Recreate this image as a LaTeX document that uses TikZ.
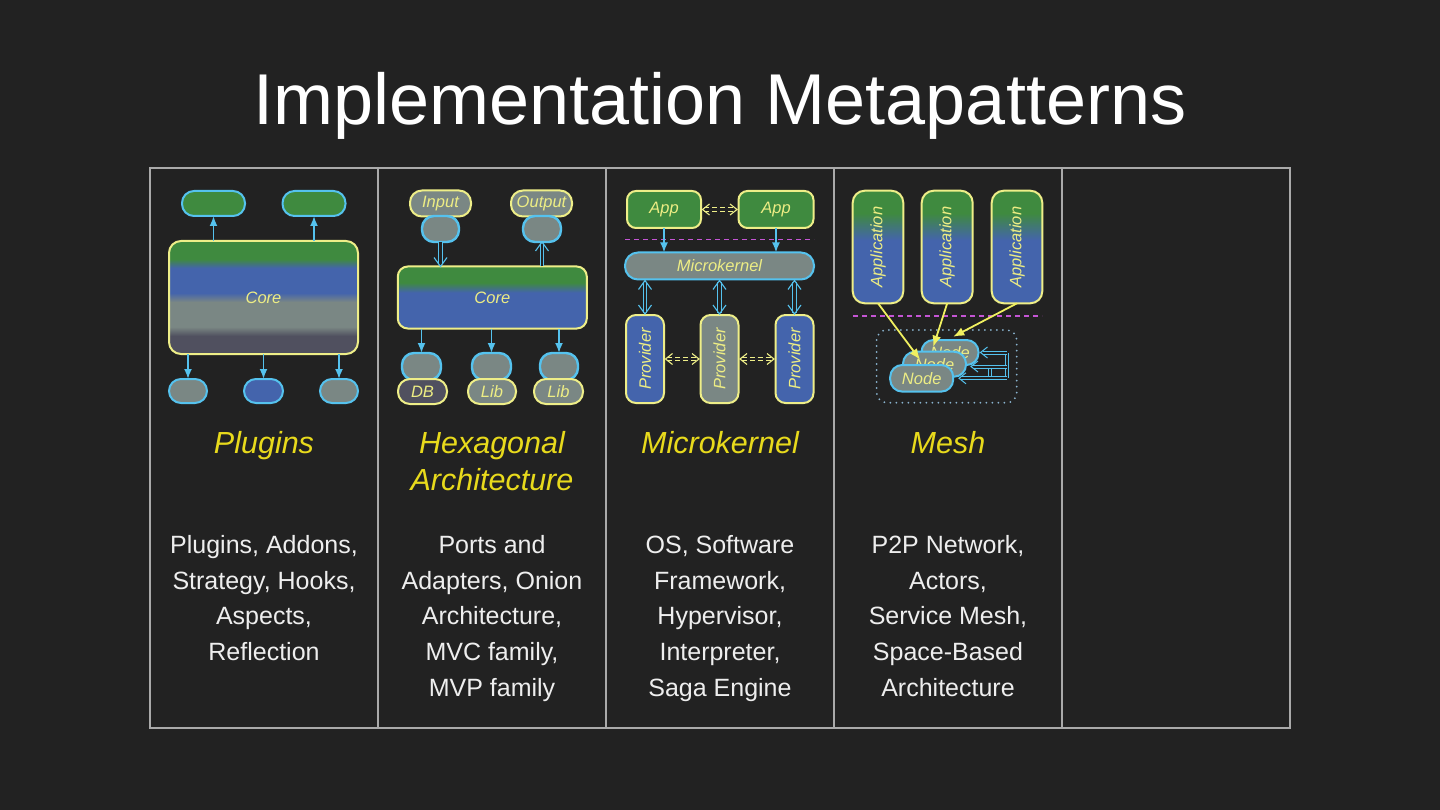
\documentclass[tikz,border=0pt]{standalone}
\usepackage{fontspec}
\setmainfont{Liberation Sans}
\usetikzlibrary{arrows.meta,calc}
\definecolor{bgc}{HTML}{222222}
\definecolor{gridc}{HTML}{AAAAAA}
\definecolor{cyanB}{HTML}{55C2EE}
\definecolor{yelB}{HTML}{EEEE88}
\definecolor{cgreen}{HTML}{3F8A3F}
\definecolor{cblue}{HTML}{4464AC}
\definecolor{cgrey}{HTML}{7A8784}
\definecolor{cslate}{HTML}{50505F}
\definecolor{txtY}{HTML}{EDED84}
\definecolor{headY}{HTML}{E8DA1C}
\definecolor{sepM}{HTML}{C455D4}
\definecolor{dotC}{HTML}{8AB4D0}
\definecolor{arrY}{HTML}{F0F060}
\definecolor{descC}{HTML}{EEEEEE}
\pgfdeclareverticalshading{plugcore}{100bp}{color(0bp)=(cslate); color(33bp)=(cslate); color(37bp)=(cgrey); color(48bp)=(cgrey); color(52bp)=(cblue); color(63bp)=(cblue); color(67bp)=(cgreen); color(100bp)=(cgreen)}
\pgfdeclareverticalshading{hexcore}{100bp}{color(0bp)=(cblue); color(54bp)=(cblue); color(62bp)=(cgreen); color(100bp)=(cgreen)}
\pgfdeclareverticalshading{appshade}{100bp}{color(0bp)=(cblue); color(53bp)=(cblue); color(65bp)=(cgreen); color(100bp)=(cgreen)}
\tikzset{
  box/.style={draw, line width=2pt, inner sep=0pt, outer sep=0pt},
  cbox/.style={box, draw=cyanB},
  ybox/.style={box, draw=yelB},
  pill/.style={rounded corners=12pt},
  lbl/.style={text=txtY, font=\fontsize{16.5}{18}\selectfont\itshape, inner sep=0pt},
  carrow/.style={draw=cyanB, line width=1.8pt, -{Latex[length=10pt,width=8pt]}},
  cdbl/.style={draw=cyanB, line width=1.1pt, double=bgc, double distance=2.2pt, shorten >=2.5pt},
  cdblboth/.style={cdbl, shorten <=2.5pt},
  ydbl/.style={draw=yelB, line width=1pt, double=bgc, double distance=2.2pt, dash pattern=on 5pt off 3pt, shorten <=3pt, shorten >=3pt},
  chev/.pic={\draw[pic actions] (-9,-6.5) -- (0,0) -- (-9,6.5);},
  chevs/.pic={\draw[pic actions] (-7,-5.5) -- (0,0) -- (-7,5.5);},
  chead/.style={draw=cyanB, line width=1.1pt, line join=miter},
  yhead/.style={draw=yelB, line width=1.1pt, line join=miter},
  sepline/.style={draw=sepM, line width=1.2pt, dash pattern=on 5pt off 4pt},
  dotbox/.style={draw=dotC, line width=2pt, dash pattern=on 0pt off 6pt, line cap=round, rounded corners=10pt},
  cloop/.style={draw=cyanB, line width=1pt, double=bgc, double distance=2pt},
  yarrow/.style={draw=arrY, line width=1.8pt, -{Latex[length=11pt,width=9pt]}},
  gridline/.style={draw=gridc, line width=1.8pt},
  titletext/.style={text=white, font=\fontsize{72}{80}\selectfont, anchor=base, inner sep=0pt},
  head/.style={text=headY, font=\fontsize{30.5}{37}\selectfont\itshape, align=center, anchor=north, inner sep=0pt},
  desc/.style={text=descC, font=\fontsize{25}{35.8}\selectfont, align=center, anchor=north, inner sep=0pt}
}
\begin{document}
\begin{tikzpicture}[x=1pt,y=-1pt]
\fill[bgc] (0,0) rectangle (1440,810);
\useasboundingbox (0,0) rectangle (1440,810);

% title
\node[titletext] (title) at (720,125) {Implementation Metapatterns};

% table
\draw[gridline] (150,168) rectangle (1290,728);
\foreach \xx in {378,606,834,1062} \draw[gridline] (\xx,168) -- (\xx,728);

% ---------- Plugins ----------
\node[cbox, pill, fill=cgreen, minimum width=63pt, minimum height=25pt] (pa) at (213.5,203.5) {};
\node[cbox, pill, fill=cgreen, minimum width=63pt, minimum height=25pt] (pb) at (314,203.5) {};
\node[ybox, shade, shading=plugcore, rounded corners=12pt, minimum width=189pt, minimum height=113pt, lbl] (pcore) at (263.5,297.5) {Core};
\node[cbox, pill, fill=cgrey, minimum width=38pt, minimum height=24pt] (pc) at (188,391) {};
\node[cbox, pill, fill=cblue, minimum width=39pt, minimum height=24pt] (pd) at (263.5,391) {};
\node[cbox, pill, fill=cgrey, minimum width=38pt, minimum height=24pt] (pe) at (339,391) {};
\draw[carrow] (pcore.north -| pa) -- (pa.south);
\draw[carrow] (pcore.north -| pb) -- (pb.south);
\draw[carrow] (pcore.south -| pc) -- (pc.north);
\draw[carrow] (pcore.south -| pd) -- (pd.north);
\draw[carrow] (pcore.south -| pe) -- (pe.north);

% ---------- Hexagonal ----------
\node[ybox, pill, fill=cgrey, minimum width=61pt, minimum height=26pt, lbl] (hin) at (440.5,203.5) {Input};
\node[cbox, pill, fill=cgrey, line width=2.4pt, minimum width=37pt, minimum height=26pt] (hpin) at (440.5,229) {};
\node[ybox, pill, fill=cgrey, minimum width=61pt, minimum height=26pt, lbl] (hout) at (541.5,203.5) {Output};
\node[cbox, pill, fill=cgrey, line width=2.4pt, minimum width=38pt, minimum height=26pt] (hpout) at (542,229) {};
\node[ybox, shade, shading=hexcore, rounded corners=10pt, minimum width=189pt, minimum height=62pt, lbl] (hcore) at (492.3,297.5) {Core};
\draw[cdbl] (hpin.south) -- (hpin.south |- hcore.north);
\path (hpin.south |- hcore.north) pic[chead, rotate=-90] {chev};
\draw[cdbl] (hcore.north -| hpout) -- (hpout.south);
\path (hpout.south) pic[chead, rotate=90] {chev};
\node[cbox, pill, fill=cgrey, line width=2.4pt, minimum width=39pt, minimum height=27pt] (hp1) at (421.5,366.5) {};
\node[cbox, pill, fill=cgrey, line width=2.4pt, minimum width=39pt, minimum height=27pt] (hp2) at (491.5,366.5) {};
\node[cbox, pill, fill=cgrey, line width=2.4pt, minimum width=38pt, minimum height=27pt] (hp3) at (559,366.5) {};
\node[ybox, pill, fill=cslate, minimum width=49pt, minimum height=25pt, lbl] (hdb) at (422.5,391.5) {DB};
\node[ybox, pill, fill=cgrey, minimum width=48pt, minimum height=25pt, lbl] (hlib1) at (492,391.5) {Lib};
\node[ybox, pill, fill=cgrey, minimum width=49pt, minimum height=25pt, lbl] (hlib2) at (558.5,391.5) {Lib};
\draw[carrow] (hcore.south -| hp1) -- (hp1.north);
\draw[carrow] (hcore.south -| hp2) -- (hp2.north);
\draw[carrow] (hcore.south -| hp3) -- (hp3.north);

% ---------- Microkernel ----------
\node[ybox, fill=cgreen, rounded corners=9pt, minimum width=74pt, minimum height=37pt, lbl] (mapp1) at (664,209.5) {App};
\node[ybox, fill=cgreen, rounded corners=9pt, minimum width=75pt, minimum height=37pt, lbl] (mapp2) at (776,209.5) {App};
\draw[ydbl] (mapp1.east) -- (mapp2.west);
\path ([xshift=1.5pt]mapp1.east) pic[yhead, rotate=180] {chevs};
\path ([xshift=-1.5pt]mapp2.west) pic[yhead] {chevs};
\coordinate (mk1) at (625,239.5);
\coordinate (mk2) at (814,239.5);
\draw[sepline] (mk1) -- (mk2);
\node[cbox, fill=cgrey, rounded corners=13pt, minimum width=189pt, minimum height=27pt, lbl] (mk) at (719.5,266) {Microkernel};
\draw[carrow] (mapp1.south) -- (mapp1.south |- mk.north);
\draw[carrow] (mapp2.south) -- (mapp2.south |- mk.north);
\node[ybox, fill=cblue, rounded corners=10pt, minimum width=38pt, minimum height=88pt] (mp1) at (645,359) {};
\node[ybox, fill=cgrey, rounded corners=10pt, minimum width=38pt, minimum height=88pt] (mp2) at (719.5,359) {};
\node[ybox, fill=cblue, rounded corners=10pt, minimum width=38pt, minimum height=88pt] (mp3) at (794.5,359) {};
\node[lbl, rotate=90] (mp1t) at (mp1) {Provider};
\node[lbl, rotate=90] (mp2t) at (mp2) {Provider};
\node[lbl, rotate=90] (mp3t) at (mp3) {Provider};
\foreach \pp in {mp1,mp2,mp3}{
  \draw[cdblboth] (mk.south -| \pp) -- (\pp.north);
  \path ([yshift=-1pt]mk.south -| \pp) pic[chead, rotate=90] {chev};
  \path ([yshift=1pt]\pp.north) pic[chead, rotate=-90] {chev};
}
\draw[ydbl] (mp1.east) -- (mp2.west);
\path ([xshift=1.5pt]mp1.east) pic[yhead, rotate=180] {chevs};
\path ([xshift=-1.5pt]mp2.west) pic[yhead] {chevs};
\draw[ydbl] (mp2.east) -- (mp3.west);
\path ([xshift=1.5pt]mp2.east) pic[yhead, rotate=180] {chevs};
\path ([xshift=-1.5pt]mp3.west) pic[yhead] {chevs};

% ---------- Mesh ----------
\node[ybox, shade, shading=appshade, rounded corners=12pt, minimum width=50.6pt, minimum height=112.6pt] (ma1) at (878,247) {};
\node[ybox, shade, shading=appshade, rounded corners=12pt, minimum width=51pt, minimum height=112.6pt] (ma2) at (947.2,247) {};
\node[ybox, shade, shading=appshade, rounded corners=12pt, minimum width=50.6pt, minimum height=112.6pt] (ma3) at (1017,247) {};
\node[lbl, rotate=90] (ma1t) at (ma1) {Application};
\node[lbl, rotate=90] (ma2t) at (ma2) {Application};
\node[lbl, rotate=90] (ma3t) at (ma3) {Application};
\coordinate (ms1) at (853,316);
\coordinate (ms2) at (1042,316);
\draw[sepline] (ms1) -- (ms2);
\draw[dotbox] (876.7,330) rectangle (1016.7,402.7);
\node[cbox, pill, fill=cgrey, minimum width=57pt, minimum height=25pt, lbl] (mn3) at (950,352.5) {Node};
\node[cbox, pill, fill=cgrey, minimum width=63pt, minimum height=25pt, lbl] (mn2) at (934.5,364.2) {Node};
\node[cbox, pill, fill=cgrey, minimum width=63pt, minimum height=26.6pt, lbl] (mn1) at (921.7,378.3) {Node};
\coordinate (ltop) at (1006.5,352.5);
\coordinate (lmid) at (1006.5,366.5);
\coordinate (lbot) at (1006.5,378.3);
\coordinate (lv1) at (990,366.5);
\coordinate (lv2) at (990,378.3);
\coordinate (tmid) at (971,366.5);
\coordinate (tbot) at (959,378.3);
\draw[cloop] (lbot) -- (ltop);
\draw[cloop] (lv1) -- (lv2);
\draw[cloop, shorten >=2pt] (ltop) -- ([xshift=2pt]mn3.east);
\path ([xshift=2pt]mn3.east) pic[chead, line width=1pt, rotate=180] {chevs};
\draw[cloop, shorten >=2pt] (lmid) -- (tmid);
\path (tmid) pic[chead, line width=1pt, rotate=180] {chevs};
\draw[cloop, shorten >=2pt] (lbot) -- (tbot);
\path (tbot) pic[chead, line width=1pt, rotate=180] {chevs};
\draw[yarrow] (ma1.south) -- ($(mn2.north)+(-14.5,8)$);
\draw[yarrow] (ma2.south) -- ($(mn3.north)+(-16.7,6.7)$);
\draw[yarrow] (ma3.south) -- ($(mn3.north)+(3.3,-3.3)$);

% ---------- headings ----------
\node[head] (h1) at (264,431) {Plugins};
\node[head] (h2) at (492,431) {Hexagonal\\Architecture};
\node[head] (h3) at (720,431) {Microkernel};
\node[head] (h4) at (948,431) {Mesh};

% ---------- descriptions ----------
\node[desc] (d1) at (264,535) {Plugins, Addons,\\Strategy, Hooks,\\Aspects,\\Reflection};
\node[desc] (d2) at (492,535) {Ports and\\Adapters, Onion\\Architecture,\\MVC family,\\MVP family};
\node[desc] (d3) at (720,535) {OS, Software\\Framework,\\Hypervisor,\\Interpreter,\\Saga Engine};
\node[desc] (d4) at (948,535) {P2P Network,\\Actors,\\Service Mesh,\\Space-Based\\Architecture};
\end{tikzpicture}
\end{document}
